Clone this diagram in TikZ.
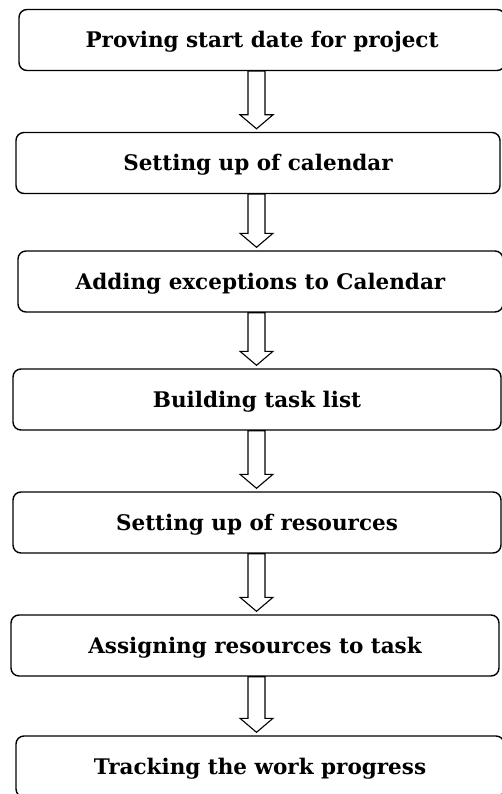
\documentclass[tikz,border=0pt]{standalone}
\usepackage{fontspec}
\setmainfont{DejaVu Serif}
\usetikzlibrary{calc}
\tikzset{
  stepbox/.style={draw=black, line width=1.4pt, rounded corners=8pt, fill=white,
    minimum height=61pt, inner sep=0pt, text height=15.7pt, text depth=0pt,
    font=\fontsize{21.5}{25}\selectfont\bfseries},
  barrow/.style={draw=black, line width=1.1pt, fill=white, line join=miter}
}
\newcommand\blockarrow[2]{%
  \draw[barrow] let \p1=(#1.south -| ax), \p2=(#2.north -| ax) in
    (\x1-8.5pt,\y1) -- (\x1-8.5pt,\y2+17pt) -- (\x1-16.5pt,\y2+17pt) -- (\x1,\y2+3pt)
    -- (\x1+16.5pt,\y2+17pt) -- (\x1+8.5pt,\y2+17pt) -- (\x1+8.5pt,\y1) -- cycle;}
\begin{document}
\begin{tikzpicture}[x=1pt,y=1pt]
\useasboundingbox (0,0) rectangle (502,-794);
\coordinate (ax) at (256.5,0);
\node[stepbox, minimum width=486pt] (b1) at (262,-40) {Proving start date for project};
\node[stepbox, minimum width=484pt] (b2) at (258,-163) {Setting up of calendar};
\node[stepbox, minimum width=485pt] (b3) at (260.5,-281.5) {Adding exceptions to Calendar};
\node[stepbox, minimum width=488pt] (b4) at (257,-399.5) {Building task list};
\node[stepbox, minimum width=488pt] (b5) at (257,-522.5) {Setting up of resources};
\node[stepbox, minimum width=488pt] (b6) at (255,-645.5) {Assigning resources to task};
\node[stepbox, minimum width=488pt] (b7) at (260,-766.5) {Tracking the work progress};
\blockarrow{b1}{b2}
\blockarrow{b2}{b3}
\blockarrow{b3}{b4}
\blockarrow{b4}{b5}
\blockarrow{b5}{b6}
\blockarrow{b6}{b7}
\end{tikzpicture}
\end{document}
